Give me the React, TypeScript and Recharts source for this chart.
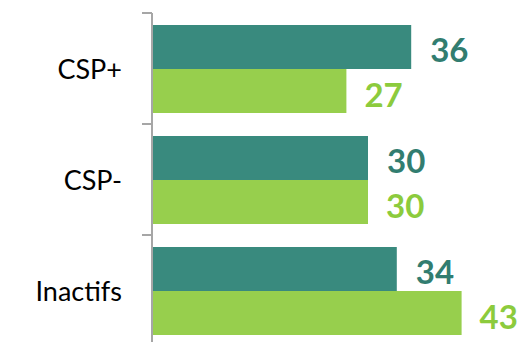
import React from 'react';
import { BarChart, Bar, XAxis, YAxis, LabelList } from 'recharts';

const categories = ['CSP+', 'CSP-', 'Inactifs'];
const seriesA = [36, 30, 34];
const seriesB = [27, 30, 43];

const TEAL = '#398a7e';
const GREEN = '#97cf4d';
const TEAL_TEXT = '#327d70';
const GREEN_TEXT = '#8ccb3d';
const FONT = 'Lato, "Open Sans", sans-serif';

const data = categories.map((name, i) => ({ name, a: seriesA[i], b: seriesB[i] }));

const LABEL_GAP = 30;
const BAND = 111;

function CategoryTick(props: any) {
  const { x, y, payload } = props;
  const axisX = x + LABEL_GAP;
  const top = y - BAND / 2;
  return (
    <g>
      <line x1={axisX - 10} y1={top} x2={axisX} y2={top} stroke="#a6a6a6" strokeWidth={2} />
      <text x={x} y={y + 4} textAnchor="end" dominantBaseline="middle" fill="#000" fontSize={27} fontFamily={FONT}>
        {payload.value}
      </text>
    </g>
  );
}

export default function App() {
  return (
    <div style={{ position: 'absolute', left: 0, top: 0, width: 532, height: 342, overflow: 'hidden', background: '#fff' }}>
      <BarChart
        layout="vertical"
        width={532}
        height={346}
        data={data}
        margin={{ top: 13, right: 20, bottom: 0, left: 0 }}
        barCategoryGap={12}
        barGap={0}
      >
        <XAxis type="number" domain={[0, 50]} hide />
        <YAxis
          type="category"
          dataKey="name"
          width={152}
          axisLine={{ stroke: '#a6a6a6', strokeWidth: 2 }}
          tickLine={false}
          tickSize={0}
          tickMargin={LABEL_GAP}
          tick={<CategoryTick />}
          interval={0}
        />
        <Bar dataKey="a" fill={TEAL} isAnimationActive={false}>
          <LabelList dataKey="a" position="right" offset={19} dy={3} fill={TEAL_TEXT} fontSize={33} fontWeight="bold" fontFamily={FONT} />
        </Bar>
        <Bar dataKey="b" fill={GREEN} isAnimationActive={false}>
          <LabelList dataKey="b" position="right" offset={18} dy={4} fill={GREEN_TEXT} fontSize={33} fontWeight="bold" fontFamily={FONT} />
        </Bar>
      </BarChart>
    </div>
  );
}
